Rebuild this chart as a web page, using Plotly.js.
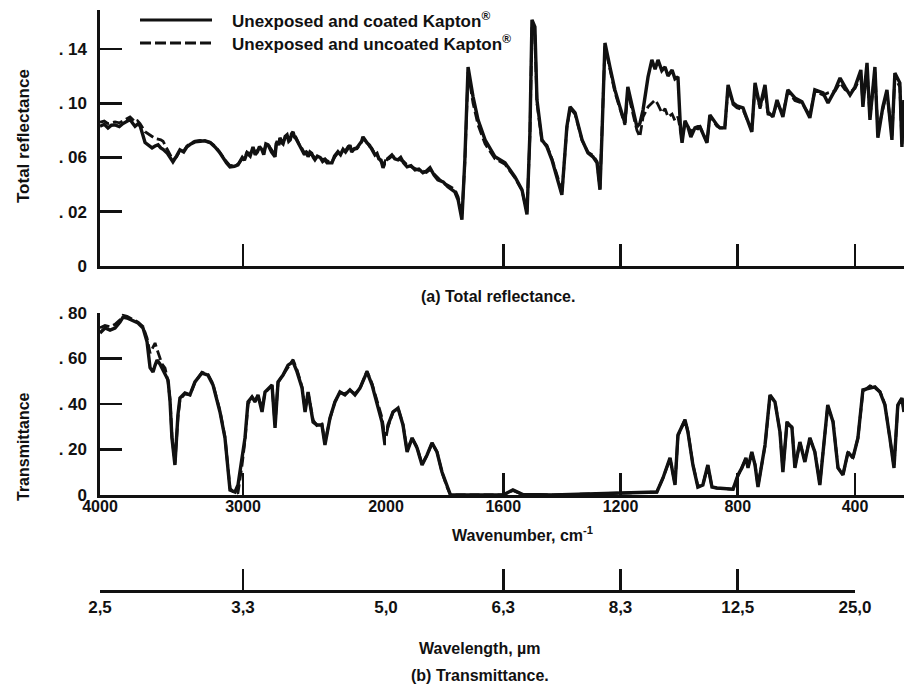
<!DOCTYPE html>
<html>
<head>
<meta charset="utf-8">
<script src="https://cdn.plot.ly/plotly-3.0.1.min.js"></script>
<style>html,body{margin:0;padding:0;background:#fff;}#chart{width:904px;height:690px;}</style>
</head>
<body>
<div id="chart"></div>
<script>
// ---------- DATA ----------
// (a) Total reflectance, wavenumber in cm^-1
const wnTop = [4000,3970,3944,3920,3895,3865,3839,3815,3790,3770,3755,3738,3720,3685,3660,3636,3615,3594,3575,3559,3531,3510,3490,3465,3441,3415,3392,3365,3336,3300,3266,3230,3196,3165,3140,3115,3091,3060,3035,3005,2990,2972,2950,2930,2915,2900,2885,2867,2855,2840,2825,2812,2800,2776,2768,2760,2750,2741,2730,2720,2705,2692,2680,2670,2660,2650,2640,2630,2615,2600,2587,2570,2558,2545,2532,2520,2508,2497,2480,2460,2443,2427,2412,2400,2378,2360,2336,2318,2300,2283,2266,2252,2240,2222,2203,2185,2170,2161,2148,2133,2115,2100,2088,2077,2063,2050,2035,2021,2000,1990,1980,1970,1959,1950,1940,1928,1915,1901,1888,1874,1862,1850,1836,1823,1805,1789,1765,
  1754,1741,1731,1720,1703,1686,1662,1628,1594,1560,1536,1519,1509,1502,1492,1485,1468,1451,1434,1413,1400,1383,1372,1355,1331,1311,1294,1280,1270,1263,1253,1236,1219,1202,1185,1175,1158,1144,1134,1123,1106,1093,1082,1072,1059,1048,1038,1024,1014,1004,995,990,980,970,960,946,936,929,905,895,871,861,844,833,816,803,782,752,741,724,707,697,680,666,646,629,605,581,554,537,509,492,468,451,434,417,400,380,373,359,349,332,322,305,291,274,264,247,240,233];
const reflCoated = [.0830,.0845,.0818,.0838,.0840,.0828,.0850,.0862,.0880,.0850,.0830,.0845,.0835,.0710,.0690,.0671,.0685,.0693,.0670,.0660,.0634,.0600,.0568,.0610,.0656,.0640,.0678,.0700,.0715,.0720,.0723,.0710,.0678,.0640,.0597,.0560,.0531,.0535,.0546,.0600,.0580,.0634,.0610,.0678,.0620,.0640,.0680,.0656,.0620,.0700,.0693,.0660,.0640,.0605,.0700,.0720,.0690,.0745,.0710,.0700,.0755,.0767,.0720,.0730,.0775,.0789,.0750,.0740,.0708,.0690,.0656,.0620,.0645,.0605,.0640,.0630,.0600,.0583,.0610,.0600,.0570,.0583,.0560,.0560,.0561,.0610,.0642,.0620,.0660,.0640,.0671,.0690,.0640,.0665,.0671,.0700,.0720,.0752,.0730,.0708,.0690,.0660,.0640,.0619,.0630,.0590,.0580,.0524,.0580,.0600,.0619,.0590,.0583,.0600,.0560,.0531,.0540,.0509,.0515,.0487,.0500,.0524,.0470,.0435,.0420,.0384,.0347,
  .0288,.0141,.0583,.1267,.1047,.0877,.0730,.0605,.0561,.0457,.0362,.0180,.0781,.1614,.1562,.1024,.0730,.0678,.0583,.0435,.0325,.0826,.0973,.0929,.0730,.0634,.0605,.0561,.0362,.0781,.1444,.1267,.1098,.0973,.0855,.1120,.0951,.0826,.0850,.0951,.1194,.1319,.1250,.1319,.1240,.1267,.1200,.1245,.1180,.1194,.0800,.0708,.0870,.0826,.0750,.0818,.0826,.0826,.0708,.0914,.0840,.0818,.0818,.1135,.1002,.0980,.0966,.0789,.1150,.0973,.1135,.0936,.0899,.1024,.0899,.1098,.1039,.1010,.0892,.1098,.1076,.1002,.1098,.1186,.1120,.1060,.1120,.1245,.0973,.1297,.0877,.1267,.0745,.0973,.1098,.0730,.1223,.1150,.0678,.1024];
const reflUncoated = [.0860,.0868,.0850,.0858,.0862,.0855,.0870,.0880,.0899,.0878,.0860,.0870,.0850,.0790,.0770,.0752,.0740,.0735,.0730,.0720,.0660,.0615,.0580,.0605,.0650,.0648,.0685,.0705,.0720,.0725,.0718,.0712,.0685,.0645,.0605,.0568,.0540,.0542,.0550,.0590,.0595,.0640,.0625,.0670,.0640,.0650,.0670,.0665,.0640,.0690,.0700,.0675,.0655,.0620,.0690,.0710,.0705,.0740,.0725,.0715,.0740,.0760,.0740,.0745,.0760,.0780,.0765,.0750,.0715,.0680,.0665,.0630,.0640,.0612,.0625,.0620,.0610,.0592,.0600,.0595,.0585,.0590,.0575,.0572,.0570,.0600,.0635,.0630,.0655,.0650,.0680,.0675,.0650,.0660,.0665,.0690,.0715,.0745,.0725,.0715,.0680,.0670,.0650,.0625,.0620,.0600,.0570,.0535,.0585,.0590,.0610,.0600,.0595,.0585,.0570,.0545,.0530,.0520,.0505,.0500,.0490,.0510,.0480,.0450,.0410,.0395,.0365,
  .0310,.0170,.0560,.1230,.1000,.0840,.0700,.0590,.0550,.0450,.0355,.0200,.0760,.1560,.1500,.1000,.0720,.0690,.0590,.0445,.0330,.0815,.0960,.0920,.0725,.0640,.0615,.0570,.0370,.0770,.1420,.1250,.1080,.0960,.0840,.1080,.0930,.0800,.0752,.0900,.0973,.1000,.1024,.0990,.0929,.0960,.0899,.0920,.0870,.0900,.0780,.0740,.0850,.0830,.0790,.0818,.0810,.0826,.0715,.0905,.0830,.0818,.0818,.1120,.0990,.0966,.0950,.0800,.1130,.0960,.1100,.0920,.0910,.1000,.0920,.1090,.1020,.1000,.0910,.1090,.1060,.1076,.1090,.1150,.1100,.1080,.1110,.1200,.1000,.1250,.0900,.1230,.0800,.0950,.1080,.0760,.1190,.1120,.0700,.1000];

// (b) Transmittance, wavenumber in cm^-1
const wnBot = [4000,3965,3930,3895,3860,3839,3811,3776,3734,3699,3671,3650,3629,3615,3601,3580,3566,3545,3524,3510,3497,3476,3455,3441,3406,3371,3336,3287,3245,3210,3161,3126,3105,3091,3056,3035,3007,2986,2965,2937,2916,2895,2867,2846,2797,2776,2755,2720,2685,2650,2622,2587,2566,2545,2510,2483,2448,2427,2392,2357,2322,2287,2252,2217,2182,2133,2098,2063,2028,2007,2000,1993,1976,1959,1942,1928,1911,1894,1877,1860,1843,1826,1809,1792,1780,1700,1601,1567,1533,1430,1226,1134,1076,1055,1031,1014,1004,980,970,953,936,919,902,888,871,816,799,786,772,765,752,741,731,707,690,673,656,646,632,615,605,588,571,554,537,520,503,493,475,458,441,424,407,390,373,349,332,315,298,281,267,254,240,233];
const transCoated = [0.712,0.734,0.725,0.734,0.760,0.782,0.778,0.769,0.756,0.734,0.673,0.560,0.541,0.570,0.593,0.575,0.558,0.530,0.505,0.409,0.251,0.132,0.352,0.426,0.448,0.440,0.497,0.536,0.527,0.484,0.365,0.251,0.119,0.022,0.013,0.044,0.163,0.251,0.409,0.431,0.409,0.440,0.365,0.453,0.484,0.295,0.497,0.527,0.571,0.585,0.541,0.470,0.365,0.453,0.321,0.308,0.308,0.220,0.338,0.409,0.453,0.440,0.462,0.440,0.470,0.541,0.484,0.409,0.321,0.220,0.260,0.308,0.365,0.382,0.308,0.189,0.251,0.207,0.132,0.176,0.229,0.189,0.101,0.035,0.000,0.000,0.000,0.022,0.002,0.000,0.009,0.013,0.013,0.075,0.163,0.044,0.264,0.330,0.277,0.132,0.035,0.044,0.132,0.035,0.031,0.026,0.088,0.119,0.163,0.119,0.189,0.132,0.035,0.220,0.440,0.409,0.277,0.101,0.321,0.295,0.119,0.233,0.145,0.251,0.189,0.044,0.277,0.396,0.321,0.119,0.088,0.189,0.163,0.251,0.462,0.470,0.475,0.453,0.396,0.251,0.119,0.396,0.426,0.365];
const transUncoated = [0.735,0.745,0.740,0.750,0.770,0.790,0.785,0.775,0.760,0.740,0.690,0.624,0.650,0.668,0.640,0.602,0.575,0.558,0.497,0.420,0.260,0.140,0.340,0.420,0.445,0.440,0.495,0.540,0.530,0.488,0.370,0.255,0.125,0.030,0.005,0.010,0.130,0.240,0.400,0.430,0.415,0.435,0.380,0.450,0.480,0.310,0.495,0.530,0.560,0.595,0.550,0.475,0.375,0.450,0.330,0.305,0.312,0.230,0.335,0.410,0.450,0.445,0.460,0.445,0.468,0.545,0.490,0.420,0.340,0.250,0.280,0.300,0.365,0.382,0.310,0.195,0.250,0.210,0.135,0.175,0.228,0.190,0.100,0.035,0.000,0.000,0.000,0.020,0.002,0.000,0.008,0.012,0.013,0.075,0.160,0.048,0.260,0.332,0.280,0.135,0.038,0.045,0.130,0.035,0.030,0.025,0.085,0.120,0.160,0.125,0.185,0.135,0.040,0.215,0.435,0.410,0.280,0.110,0.315,0.300,0.125,0.230,0.150,0.250,0.190,0.050,0.275,0.390,0.325,0.120,0.090,0.185,0.165,0.250,0.455,0.480,0.470,0.455,0.400,0.255,0.125,0.390,0.430,0.370];

// tick labels
const reflTickVals = [-0.02, 0.02, 0.06, 0.10, 0.14];
const reflTickText = ['0', '. 02', '. 06', '. 10', '. 14'];
const transTickVals = [0, 0.2, 0.4, 0.6, 0.8];
const transTickText = ['0', '. 20', '. 40', '. 60', '. 80'];
const wnTicksHigh = [4000, 3000, 2000];
const wnTicksLow = [1600, 1200, 800, 400];
const wlTicksHigh = [4000, 3000];
const wlTextHigh = ['2,5', '3,3'];
const wlTicksLow = [2000, 1600, 1200, 800, 400];
const wlTextLow = ['5,0', '6,3', '8,3', '12,5', '25,0'];

const seriesNames = ['Unexposed and coated Kapton<sup>®</sup>', 'Unexposed and uncoated Kapton<sup>®</sup>'];

// ---------- LAYOUT HELPERS ----------
const W = 904, H = 690;
const fx = p => p / W;
const fy = p => 1 - p / H;
const FONT = '"Liberation Sans", Arial, sans-serif';
const INK = '#111';

const seg1 = [fx(100), fx(386)];
const seg2 = [fx(386), 1];
const brk = 2000;
const rightEnd = 2000 - (W - 386) * 400 / 117.25;

function split(xs, ys, keep) {
  const ox = [], oy = [];
  xs.forEach((x, i) => { if (keep(x)) { ox.push(x); oy.push(ys[i]); } });
  return {x: ox, y: oy};
}
const hi = x => x >= brk;
const lo = x => x <= brk;

const solid = {color: INK, width: 3.4};
const dashed = {color: INK, width: 2.8, dash: '10px,4px'};

const traces = [];
function addSeries(xs, ys, line, xa1, xa2, ya, name) {
  const a = split(xs, ys, hi), b = split(xs, ys, lo);
  traces.push({type: 'scatter', mode: 'lines', x: a.x, y: a.y, xaxis: xa1, yaxis: ya, line: line, name: name, showlegend: false, hoverinfo: 'skip'});
  traces.push({type: 'scatter', mode: 'lines', x: b.x, y: b.y, xaxis: xa2, yaxis: ya, line: line, name: name, showlegend: false, hoverinfo: 'skip'});
}
addSeries(wnTop, reflUncoated, dashed, 'x', 'x2', 'y', seriesNames[1]);
addSeries(wnTop, reflCoated, solid, 'x', 'x2', 'y', seriesNames[0]);
addSeries(wnBot, transUncoated, dashed, 'x3', 'x4', 'y2', seriesNames[1]);
addSeries(wnBot, transCoated, solid, 'x3', 'x4', 'y2', seriesNames[0]);
// wavelength scale axes (no marks)
traces.push({type: 'scatter', mode: 'lines', x: [], y: [], xaxis: 'x5', yaxis: 'y3', showlegend: false});
traces.push({type: 'scatter', mode: 'lines', x: [], y: [], xaxis: 'x6', yaxis: 'y3', showlegend: false});

const tf = s => ({family: FONT, size: s, color: INK, weight: 'bold'});
const axBase = {
  showline: true, linecolor: INK, linewidth: 2.6, mirror: false,
  ticks: 'inside', ticklen: 22, tickwidth: 2.6, tickcolor: INK,
  showgrid: false, zeroline: false, fixedrange: true, tickmode: 'array',
  tickfont: tf(16)
};
const ax = (o) => Object.assign({}, axBase, o);

const layout = {
  width: W, height: H, autosize: false,
  margin: {l: 0, r: 0, t: 0, b: 0, pad: 0},
  paper_bgcolor: '#fff', plot_bgcolor: 'rgba(0,0,0,0)',
  font: {family: FONT, size: 16, color: INK, weight: 'bold'},
  showlegend: false,
  xaxis: ax({domain: seg1, range: [4000, brk], anchor: 'y', tickvals: [3000, 2000], showticklabels: false}),
  xaxis2: ax({domain: seg2, range: [brk, rightEnd], anchor: 'y', tickvals: wnTicksLow, showticklabels: false}),
  yaxis: ax({domain: [fy(266), fy(10)], range: [-0.02, 0.1687], anchor: 'x', tickvals: reflTickVals, ticktext: reflTickText, ticklabelstandoff: 7, tickfont: tf(17)}),
  xaxis3: ax({domain: seg1, range: [4000, brk], anchor: 'y2', tickvals: wnTicksHigh, ticktext: wnTicksHigh.map(String), ticklabelstandoff: -5}),
  xaxis4: ax({domain: seg2, range: [brk, rightEnd], anchor: 'y2', tickvals: wnTicksLow, ticktext: wnTicksLow.map(String), ticklabelstandoff: -5}),
  yaxis2: ax({domain: [fy(495), fy(313)], range: [0, 0.8], anchor: 'x3', tickvals: transTickVals, ticktext: transTickText, ticklabelstandoff: 7, tickfont: tf(17)}),
  xaxis5: ax({domain: seg1, range: [4000, brk], anchor: 'y3', tickvals: wlTicksHigh, ticktext: wlTextHigh, ticklabelstandoff: 0, ticklen: 21, tickfont: tf(17)}),
  xaxis6: ax({domain: [fx(386), fx(855)], range: [brk, 400], anchor: 'y3', tickvals: wlTicksLow, ticktext: wlTextLow, ticklabelstandoff: 0, ticklen: 21, tickfont: tf(17)}),
  yaxis3: {domain: [fy(590), fy(560)], range: [0, 1], anchor: 'x5', visible: false, fixedrange: true},
  shapes: [
    {type: 'line', xref: 'paper', yref: 'paper', x0: fx(140), x1: fx(212), y0: fy(20), y1: fy(20), line: {color: INK, width: 3.2}},
    {type: 'line', xref: 'paper', yref: 'paper', x0: fx(140), x1: fx(212), y0: fy(43), y1: fy(43), line: {color: INK, width: 2.8, dash: '11px,4px'}}
  ],
  annotations: [
    {text: seriesNames[0], xref: 'paper', yref: 'paper', x: fx(230), y: fy(20), xanchor: 'left', yanchor: 'middle', showarrow: false, font: {size: 17}},
    {text: seriesNames[1], xref: 'paper', yref: 'paper', x: fx(230), y: fy(43), xanchor: 'left', yanchor: 'middle', showarrow: false, font: {size: 17}},
    {text: 'Total reflectance', xref: 'paper', yref: 'paper', x: fx(23), y: fy(136), textangle: -90, xanchor: 'center', yanchor: 'middle', showarrow: false, font: {size: 17}},
    {text: 'Transmittance', xref: 'paper', yref: 'paper', x: fx(23), y: fy(447), textangle: -90, xanchor: 'center', yanchor: 'middle', showarrow: false, font: {size: 16}},
    {text: '(a) Total reflectance.', xref: 'paper', yref: 'paper', x: fx(498), y: fy(296), xanchor: 'center', yanchor: 'middle', showarrow: false, font: {size: 16}},
    {text: 'Wavenumber, cm<sup>-1</sup>', xref: 'paper', yref: 'paper', x: fx(522), y: fy(534), xanchor: 'center', yanchor: 'middle', showarrow: false, font: {size: 16}},
    {text: 'Wavelength, µm', xref: 'paper', yref: 'paper', x: fx(480), y: fy(648), xanchor: 'center', yanchor: 'middle', showarrow: false, font: {size: 16}},
    {text: '(b) Transmittance.', xref: 'paper', yref: 'paper', x: fx(480), y: fy(675), xanchor: 'center', yanchor: 'middle', showarrow: false, font: {size: 16}}
  ]
};

Plotly.newPlot('chart', traces, layout, {staticPlot: true, displayModeBar: false});
</script>
</body>
</html>
